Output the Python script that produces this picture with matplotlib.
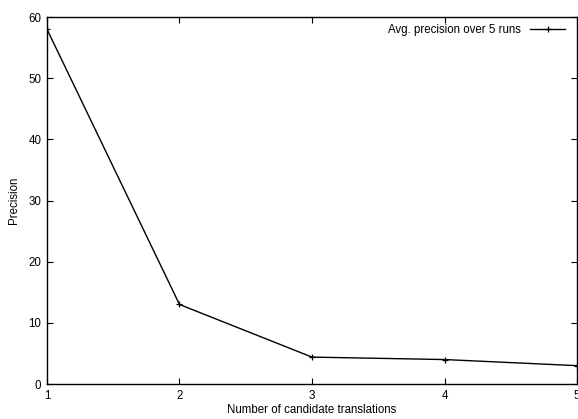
import matplotlib
matplotlib.use('Agg')
import matplotlib.pyplot as plt

### Data
candidates = [1, 2, 3, 4, 5]
precision = [58.0, 13.0, 4.4, 4.0, 3.0]
yticks = [0, 10, 20, 30, 40, 50, 60]

plt.rcParams['font.family'] = ['Liberation Sans', 'DejaVu Sans']
plt.rcParams['font.size'] = 8.3

fig = plt.figure(figsize=(5.78, 4.19), dpi=100)
ax = fig.add_axes([0.0813, 0.0835, 0.9170, 0.8759])

ax.plot(candidates, precision, color='black', linewidth=1.0, marker='+',
        markersize=5, markeredgewidth=0.9, label='Avg. precision over 5 runs')

ax.set_xlim(1, 5)
ax.set_ylim(0, 60)
ax.set_xticks(candidates)
ax.set_yticks(yticks)
ax.tick_params(direction='in', top=True, right=True, length=4, width=0.8, pad=4)
for s in ax.spines.values():
    s.set_linewidth(1.0)

ax.set_xlabel('Number of candidate translations', labelpad=2)
ax.set_ylabel('Precision', labelpad=6)

ax.legend(loc='upper right', bbox_to_anchor=(0.9925, 1.003), frameon=False,
          markerfirst=False, handlelength=3.0, borderaxespad=0.3)

fig.savefig('out.png', dpi=100)
